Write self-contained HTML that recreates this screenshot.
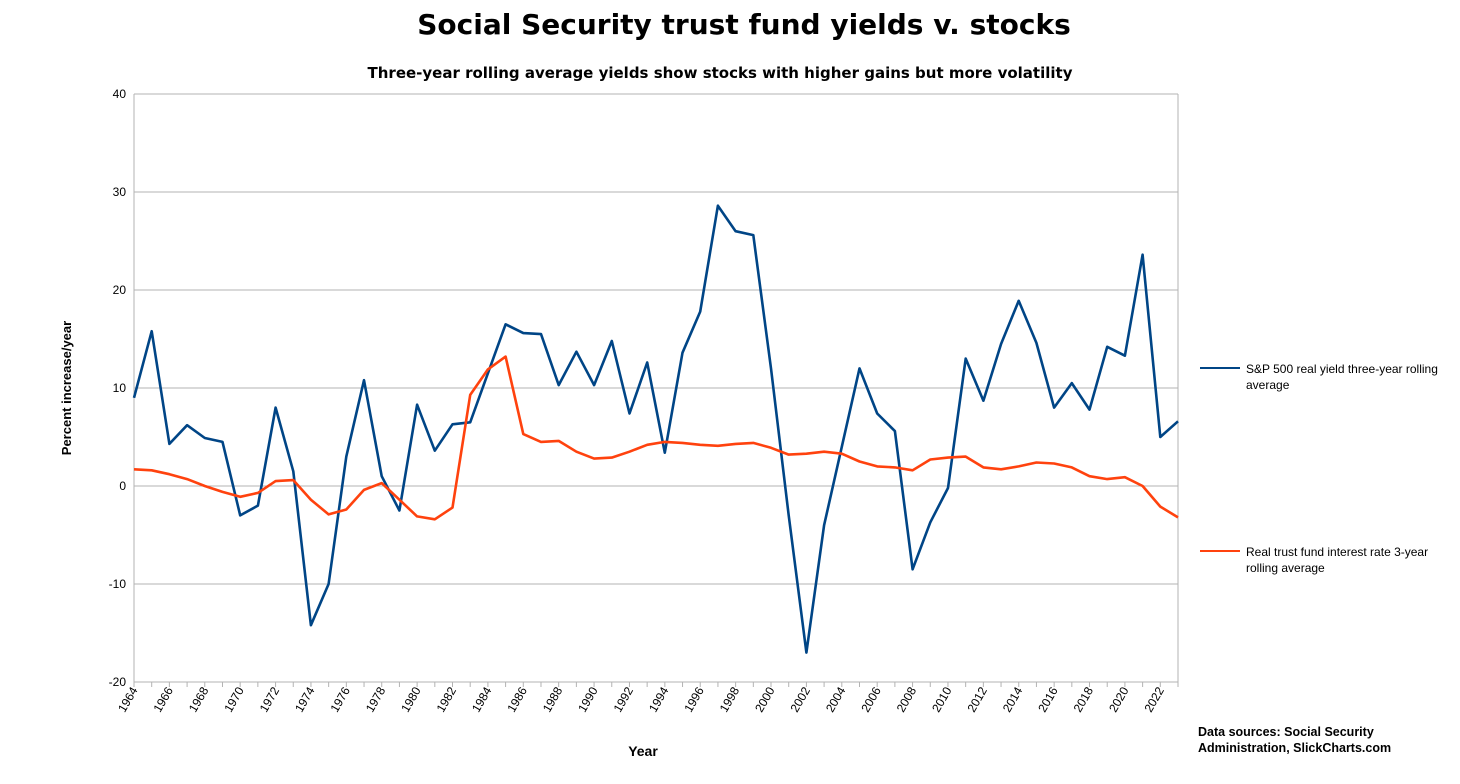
<!DOCTYPE html>
<html><head><meta charset="utf-8"><style>
body{margin:0;background:#fff;width:1460px;height:779px;overflow:hidden;font-family:"Liberation Sans",Arial,sans-serif}
</style></head><body>
<svg id="s" width="1460" height="779" xmlns="http://www.w3.org/2000/svg" font-family="Liberation Sans, Arial, sans-serif">
<text x="744" y="34" text-anchor="middle" font-size="28" font-weight="bold" font-family="DejaVu Sans, sans-serif">Social Security trust fund yields v. stocks</text>
<text x="720" y="78" text-anchor="middle" font-size="15" font-weight="bold" font-family="DejaVu Sans, sans-serif">Three-year rolling average yields show stocks with higher gains but more volatility</text>
<text transform="translate(71,388) rotate(-90)" text-anchor="middle" font-size="13" font-weight="bold">Percent increase/year</text>
<text x="643" y="756" text-anchor="middle" font-size="14" font-weight="bold">Year</text>
<text x="1198" y="736" font-size="12.5" font-weight="bold">Data sources: Social Security</text>
<text x="1198" y="752" font-size="12.5" font-weight="bold">Administration, SlickCharts.com</text>
<line x1="1200" y1="368" x2="1240" y2="368" stroke="#004586" stroke-width="2"/>
<text x="1246" y="373" font-size="12">S&amp;P 500 real yield three-year rolling</text>
<text x="1246" y="389" font-size="12">average</text>
<line x1="1200" y1="551" x2="1240" y2="551" stroke="#ff420e" stroke-width="2"/>
<text x="1246" y="556" font-size="12">Real trust fund interest rate 3-year</text>
<text x="1246" y="572" font-size="12">rolling average</text>
<g id="g"></g>
</svg>
<script>
var g=document.getElementById('g');
var x0=134,x1=1178,yt=94,yb=682;
function X(i){return x0+(x1-x0)*i/59}
function Y(v){return 486-v*9.8}
var h='';
for(var v=-20;v<=40;v+=10){h+='<line x1="'+x0+'" y1="'+Y(v)+'" x2="'+x1+'" y2="'+Y(v)+'" stroke="#b3b3b3" stroke-width="1"/>';
h+='<text x="'+(x0-8)+'" y="'+(Y(v)+4)+'" text-anchor="end" font-size="12">'+v+'</text>';}
h+='<line x1="'+x0+'" y1="'+yt+'" x2="'+x0+'" y2="'+yb+'" stroke="#b3b3b3"/>';
h+='<line x1="'+x1+'" y1="'+yt+'" x2="'+x1+'" y2="'+yb+'" stroke="#b3b3b3"/>';
for(var i=0;i<=59;i++){h+='<line x1="'+X(i)+'" y1="'+yb+'" x2="'+X(i)+'" y2="'+(yb+5)+'" stroke="#b3b3b3"/>';
if(i%2==0&&i<59){var xx=X(i)+4,yy=yb+8;h+='<text transform="translate('+xx+','+yy+') rotate(-60)" text-anchor="end" font-size="12">'+(1964+i)+'</text>';}}
var b=[9,15.8,4.3,6.2,4.9,4.5,-3,-2,8,1.5,-14.2,-10,3,10.8,1,-2.5,8.3,3.6,6.3,6.5,11.5,16.5,15.6,15.5,10.3,13.7,10.3,14.8,7.4,12.6,3.4,13.6,17.8,28.6,26,25.6,12,-3,-17,-4,4,12,7.4,5.6,-8.5,-3.7,-0.2,13,8.7,14.5,18.9,14.6,8,10.5,7.8,14.2,13.3,23.6,5,6.6];
var o=[1.7,1.6,1.2,0.7,0,-0.6,-1.1,-0.7,0.5,0.6,-1.4,-2.9,-2.4,-0.4,0.3,-1.4,-3.1,-3.4,-2.2,9.3,11.9,13.2,5.3,4.5,4.6,3.5,2.8,2.9,3.5,4.2,4.5,4.4,4.2,4.1,4.3,4.4,3.9,3.2,3.3,3.5,3.3,2.5,2,1.9,1.6,2.7,2.9,3,1.9,1.7,2,2.4,2.3,1.9,1,0.7,0.9,0,-2.1,-3.2];
function pl(a,c){return '<polyline fill="none" stroke="'+c+'" stroke-width="2.6" stroke-linejoin="round" points="'+a.map(function(v,i){return X(i).toFixed(1)+','+Y(v).toFixed(1)}).join(' ')+'"/>'}
h+=pl(b,'#004586')+pl(o,'#ff420e');
g.innerHTML=h;
</script>
</body></html>
